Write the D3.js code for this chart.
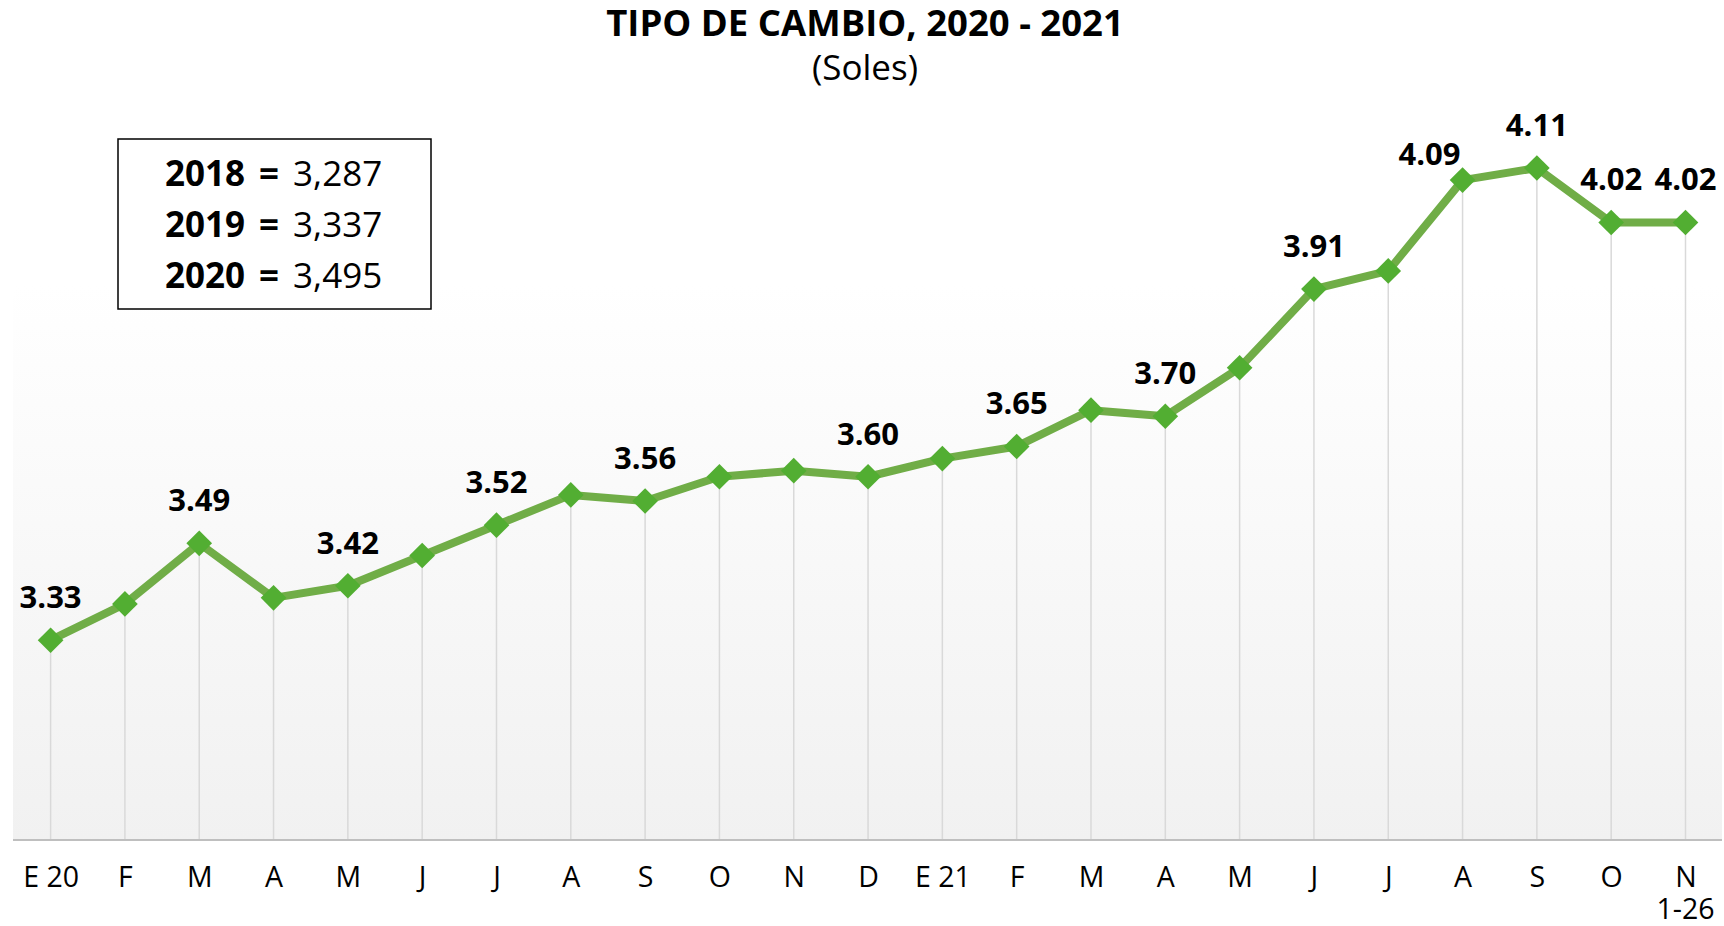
<!DOCTYPE html>
<html><head><meta charset="utf-8">
<script src="https://cdn.jsdelivr.net/npm/d3@7"></script>
<style>
html,body{margin:0;padding:0;background:#fff;}
svg{display:block;font-family:"Open Sans","Noto Sans",sans-serif;}
</style></head>
<body><svg id="chart" width="1724" height="926"></svg>
<script>
const categories = ["E 20","F","M","A","M","J","J","A","S","O","N","D","E 21","F","M","A","M","J","J","A","S","O","N"];
const values = [3.33,3.39,3.49,3.40,3.42,3.47,3.52,3.57,3.56,3.60,3.61,3.60,3.63,3.65,3.71,3.70,3.78,3.91,3.94,4.09,4.11,4.02,4.02];
const labeled = [true,false,true,false,true,false,true,false,true,false,false,true,false,true,false,true,false,true,false,true,true,true,true];
const refYears = ["2018","2019","2020"];
const refValues = ["3,287","3,337","3,495"];
const lastNote = "1-26";
const title = "TIPO DE CAMBIO, 2020 - 2021";
const subtitle = "(Soles)";

const W = 1724, H = 926;
const svg = d3.select("#chart");
const plot = {left:13, right:1722, top:100, bottom:840};

const x = d3.scalePoint().domain(d3.range(categories.length)).range([50.6,1685.5]);
const y = d3.scaleLinear().domain([3.0,4.11]).range([plot.bottom, 168]);

// background gradient
const defs = svg.append("defs");
const g = defs.append("linearGradient").attr("id","bg").attr("x1",0).attr("y1",0).attr("x2",0).attr("y2",1);
g.append("stop").attr("offset","0%").attr("stop-color","#ffffff");
g.append("stop").attr("offset","25%").attr("stop-color","#ffffff");
g.append("stop").attr("offset","100%").attr("stop-color","#f1f1f1");
svg.append("rect").attr("x",plot.left).attr("y",plot.top).attr("width",plot.right-plot.left).attr("height",plot.bottom-plot.top).attr("fill","url(#bg)");

// drop lines
svg.append("g").selectAll("line").data(values).join("line")
  .attr("x1",(d,i)=>x(i)).attr("x2",(d,i)=>x(i))
  .attr("y1",d=>y(d)).attr("y2",plot.bottom)
  .attr("stroke","#d9d9d9").attr("stroke-width",1.5);

// x axis
const xAxis = d3.axisBottom(x).tickSize(0).tickPadding(27).tickFormat(i=>categories[i]);
const ax = svg.append("g").attr("transform",`translate(0,${plot.bottom})`).call(xAxis);
ax.select(".domain").remove();
ax.selectAll("text").attr("font-size",28.5).attr("fill","#000").attr("font-family","'Open Sans',sans-serif");
svg.append("line").attr("x1",plot.left).attr("x2",plot.right).attr("y1",plot.bottom).attr("y2",plot.bottom)
  .attr("stroke","#bfbfbf").attr("stroke-width",2);
svg.append("text").attr("x",x(categories.length-1)).attr("y",919).attr("text-anchor","middle")
  .attr("font-size",28.5).attr("fill","#000").text(lastNote);

// line
svg.append("path").datum(values)
  .attr("d",d3.line().x((d,i)=>x(i)).y(d=>y(d)))
  .attr("fill","none").attr("stroke","#70ad47").attr("stroke-width",8).attr("stroke-linejoin","round");

// markers
const sym = d3.symbol().type(d3.symbolDiamond2).size(420);
svg.append("g").selectAll("path").data(values).join("path")
  .attr("transform",(d,i)=>`translate(${x(i)},${y(d)})`)
  .attr("d",sym).attr("fill","#52ae32");

// labels (label 19 nudged left like the original)
const nudge = {19:[-33,17]};
svg.append("g").selectAll("text").data(values.map((v,i)=>({v,i})).filter(d=>labeled[d.i])).join("text")
  .attr("x",d=>x(d.i)+(nudge[d.i]?nudge[d.i][0]:0))
  .attr("y",d=>y(d.v)-32+(nudge[d.i]?nudge[d.i][1]:0))
  .attr("text-anchor","middle").attr("font-size",31).attr("font-weight","bold").attr("fill","#000")
  .text(d=>d.v.toFixed(2));

// title
svg.append("text").attr("x",865).attr("y",36).attr("text-anchor","middle").attr("font-size",36.5).attr("font-weight","bold").text(title);
svg.append("text").attr("x",865).attr("y",80).attr("text-anchor","middle").attr("font-size",35).text(subtitle);

// reference box
svg.append("rect").attr("x",118).attr("y",139).attr("width",313).attr("height",170)
  .attr("fill","#fff").attr("stroke","#000").attr("stroke-width",1.5);
refYears.forEach((yr,i)=>{
  const t = svg.append("text").attr("x",165).attr("y",186+i*51).attr("font-size",35).attr("fill","#000");
  t.append("tspan").attr("font-weight","bold").text(yr);
  t.append("tspan").attr("font-weight","bold").attr("dx",14).text("=");
  t.append("tspan").attr("dx",14).text(refValues[i]);
});
</script></body></html>
